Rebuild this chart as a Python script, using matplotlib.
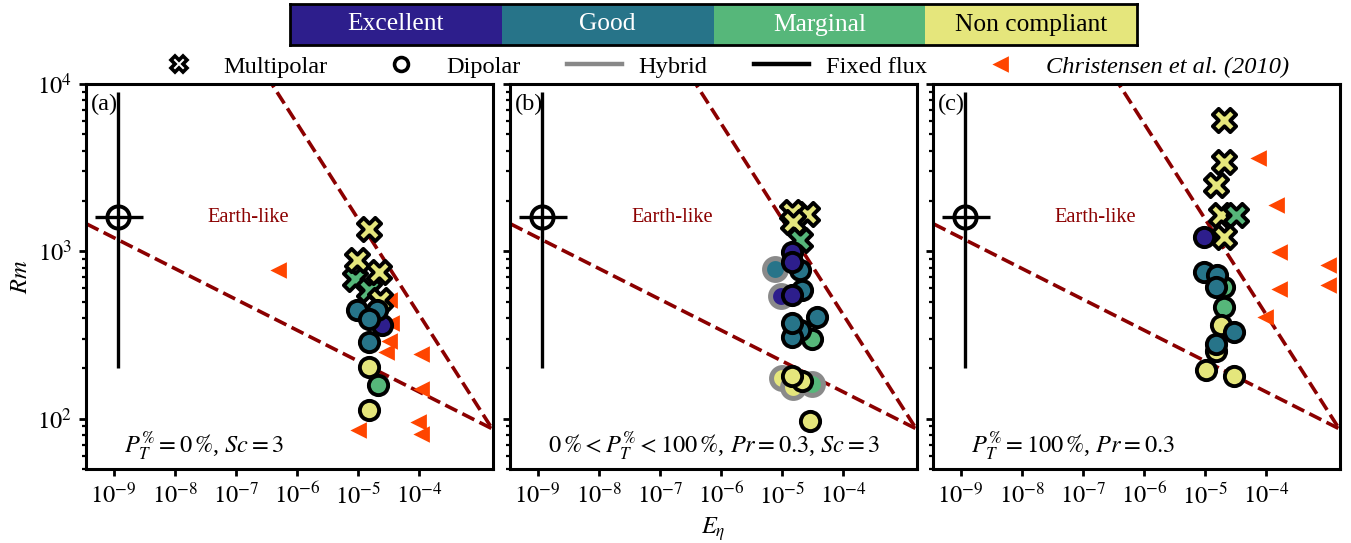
import matplotlib
matplotlib.use("Agg")
import matplotlib.pyplot as plt
from matplotlib.lines import Line2D
from matplotlib.ticker import FuncFormatter
import numpy as np

plt.rcParams["font.family"] = ["Liberation Serif", "DejaVu Serif"]
plt.rcParams["mathtext.fontset"] = "stix"
plt.rcParams["font.size"] = 8.8

ratings = ["Excellent", "Good", "Marginal", "Non compliant"]
rating_colors = ["#2d1e8c", "#277489", "#56b77a", "#e5e67c"]
rating_text = ["white", "white", "white", "black"]

# (a) P_T = 0 %, Sc = 3   -- q: index in ratings, multi: 1 = multipolar, hyb: 1 = hybrid
a_E = [8.97e-6, 1.48e-5, 1.48e-5, 9.5e-6, 2.15e-5, 2.3e-5,
       2.45e-5, 9.5e-6, 2.0e-5, 1.48e-5, 1.48e-5, 1.48e-5, 2.1e-5, 1.48e-5]
a_Rm = [685, 584, 1368, 891, 752, 509,
        361, 443, 443, 395, 286, 203, 158, 112]
a_q = [2, 2, 3, 3, 3, 3,
       0, 1, 1, 1, 1, 3, 2, 3]
a_multi = [1, 1, 1, 1, 1, 1,
           0, 0, 0, 0, 0, 0, 0, 0]
a_hyb = [0] * 14

# (b) 0 % < P_T < 100 %, Pr = 0.3, Sc = 3
b_E = [7.7e-6, 9.5e-6, 1.0e-5, 3.1e-5, 1.53e-5,
       2.54e-5, 1.45e-5, 1.53e-5, 1.97e-5,
       3.7e-5, 1.97e-5, 2.14e-5, 3.1e-5, 1.97e-5, 1.45e-5, 1.45e-5,
       1.45e-5, 1.45e-5, 1.45e-5, 2.14e-5, 1.45e-5, 2.9e-5]
b_Rm = [788, 540, 176, 162, 154,
        1682, 1718, 1496, 1164,
        403, 769, 584, 301, 337, 306, 371,
        991, 863, 546, 169, 181, 97]
b_q = [1, 0, 3, 2, 3,
       3, 3, 3, 2,
       1, 1, 1, 2, 1, 1, 1,
       0, 0, 0, 3, 3, 3]
b_multi = [0, 0, 0, 0, 0,
           1, 1, 1, 1,
           0, 0, 0, 0, 0, 0, 0,
           0, 0, 0, 0, 0, 0]
b_hyb = [1, 1, 1, 1, 1,
         0, 0, 0, 0,
         0, 0, 0, 0, 0, 0, 0,
         0, 0, 0, 0, 0, 0]

# (c) P_T = 100 %, Pr = 0.3
c_E = [2.05e-5, 2.05e-5, 1.5e-5, 1.81e-5, 3.17e-5, 2.05e-5,
       9.7e-6, 2.05e-5, 9.7e-6, 1.59e-5, 1.5e-5, 2.05e-5, 1.81e-5, 3.0e-5,
       1.5e-5, 1.5e-5, 1.03e-5, 3.0e-5]
c_Rm = [6080, 3412, 2483, 1644, 1644, 1219,
        1219, 611, 752, 718, 611, 465, 361, 329,
        255, 280, 194, 181]
c_q = [3, 3, 3, 3, 2, 3,
       0, 2, 1, 1, 1, 2, 3, 1,
       3, 1, 3, 3]
c_multi = [1, 1, 1, 1, 1, 1,
           0, 0, 0, 0, 0, 0, 0, 0,
           0, 0, 0, 0]
c_hyb = [0] * 18

# Christensen et al. (2010)
chr_a_E = [5.0e-7, 3.3e-5, 3.55e-5, 3.3e-5, 3.0e-5, 1.1e-4, 1.1e-4, 9.7e-5, 1.1e-4, 1.02e-5]
chr_a_Rm = [769, 509, 372, 293, 249, 242, 151, 96, 81, 85]
chr_b_E = []
chr_b_Rm = []
chr_c_E = [7.6e-5, 1.52e-4, 1.68e-4, 1.06e-3, 1.68e-4, 1.06e-3, 9.8e-5]
chr_c_Rm = [3589, 1884, 991, 824, 599, 625, 405]

# Earth estimate
earth_E, earth_E_lo, earth_E_hi = 1.19e-9, 5.0e-10, 3.0e-9
earth_Rm, earth_Rm_lo, earth_Rm_hi = 1600, 200, 9000

# Earth-like region boundaries
low_E = [1e-10, 1.55e-3]
low_Rm = [1850, 87]
up_E = [1e-7, 1.55e-3]
up_Rm = [21700, 87]

panel_labels = ["(a)", "(b)", "(c)"]
panel_notes = [r"$P_T^{\%} = 0\,\%$, $Sc = 3$",
               r"$0\,\% < P_T^{\%} < 100\,\%$, $Pr = 0.3$, $Sc = 3$",
               r"$P_T^{\%} = 100\,\%$, $Pr = 0.3$"]
panels = [(a_E, a_Rm, a_q, a_multi, a_hyb, chr_a_E, chr_a_Rm),
          (b_E, b_Rm, b_q, b_multi, b_hyb, chr_b_E, chr_b_Rm),
          (c_E, c_Rm, c_q, c_multi, c_hyb, chr_c_E, chr_c_Rm)]

pow_fmt = FuncFormatter(lambda v, p: r"$10^{%d}$" % int(round(np.log10(v))))

fig = plt.figure(figsize=(6.755, 2.715), dpi=200)
lefts = [86 / 1351, 510 / 1351, 933 / 1351]
axes = []
for i, left in enumerate(lefts):
    ax = fig.add_axes([left, 1 - 469 / 543, 407 / 1351, 385 / 543],
                      sharey=axes[0] if axes else None)
    axes.append(ax)

for i, ax in enumerate(axes):
    E, Rm, q, multi, hyb, ch_E, ch_Rm = panels[i]
    ax.set_xscale("log")
    ax.set_yscale("log")

    ax.plot(low_E, low_Rm, "--", color="darkred", lw=1.3, zorder=1)
    ax.plot(up_E, up_Rm, "--", color="darkred", lw=1.3, zorder=1)
    ax.text(1.6e-7, 1600, "Earth-like", color="darkred", ha="center", va="center",
            fontsize=7.4)

    ax.errorbar([earth_E], [earth_Rm],
                xerr=[[earth_E - earth_E_lo], [earth_E_hi - earth_E]],
                yerr=[[earth_Rm - earth_Rm_lo], [earth_Rm_hi - earth_Rm]],
                fmt="o", mfc="none", mec="k", ms=8, mew=1.4,
                ecolor="k", elinewidth=1.2, capsize=0, zorder=3)

    ax.plot(ch_E, ch_Rm, "<", color="orangered", ms=4.5, ls="none", zorder=2)

    for k in range(len(E)):
        ax.scatter(E[k], Rm[k],
                   marker="X" if multi[k] else "o",
                   s=70 if multi[k] else (62 if hyb[k] else 48),
                   facecolor=rating_colors[q[k]],
                   edgecolor="#8a8a8a" if hyb[k] else "k",
                   linewidth=1.8 if hyb[k] else 1.4,
                   zorder=4 + k * 0.01)

    ax.set_xlim(3.55e-10, 1.6e-3)
    ax.set_ylim(50, 1e4)
    ax.set_xticks([1e-9, 1e-8, 1e-7, 1e-6, 1e-5, 1e-4])
    ax.xaxis.set_minor_locator(plt.NullLocator())
    ax.xaxis.set_major_formatter(pow_fmt)
    ax.yaxis.set_major_formatter(pow_fmt)
    ax.tick_params(which="major", length=2.5, width=1.0, pad=2.5)
    ax.tick_params(which="minor", length=1.5, width=0.8)
    for sp in ax.spines.values():
        sp.set_linewidth(1.1)
    if i > 0:
        ax.tick_params(axis="y", which="both", labelleft=False)

    ax.text(0.012, 0.975, panel_labels[i], transform=ax.transAxes, ha="left", va="top")
    ax.text(0.093, 0.062, panel_notes[i], transform=ax.transAxes, ha="left", va="center")

axes[0].set_ylabel(r"$Rm$", labelpad=2)
axes[1].set_xlabel(r"$E_\eta$", labelpad=2.5)

# quality colour key
cax = fig.add_axes([290 / 1351, 1 - 45 / 543, 847 / 1351, 41 / 543])
cax.bar(range(len(ratings)), 1, width=1, color=rating_colors)
for k, name in enumerate(ratings):
    cax.text(k, 0.5, name, color=rating_text[k], ha="center", va="center", fontsize=9.2)
cax.set_xlim(-0.5, len(ratings) - 0.5)
cax.set_ylim(0, 1)
cax.set_xticks([])
cax.set_yticks([])
for sp in cax.spines.values():
    sp.set_linewidth(1.0)

handles = [
    Line2D([], [], marker="X", ls="none", mfc="white", mec="k", ms=5.5, mew=1.3),
    Line2D([], [], marker="o", ls="none", mfc="white", mec="k", ms=5, mew=1.3),
    Line2D([], [], color="#888888", lw=1.6),
    Line2D([], [], color="k", lw=1.6),
    Line2D([], [], marker="<", ls="none", color="orangered", ms=4),
]
labels = ["Multipolar", "Dipolar", "Hybrid", "Fixed flux", "Christensen et al. (2010)"]
leg = fig.legend(handles, labels, loc="center", bbox_to_anchor=(0.533, 0.877), ncol=5,
                 frameon=False, handlelength=2.25, handletextpad=0.7, columnspacing=1.9,
                 borderpad=0, borderaxespad=0)
leg.get_texts()[4].set_fontstyle("italic")

fig.savefig("out.png", dpi=200)
